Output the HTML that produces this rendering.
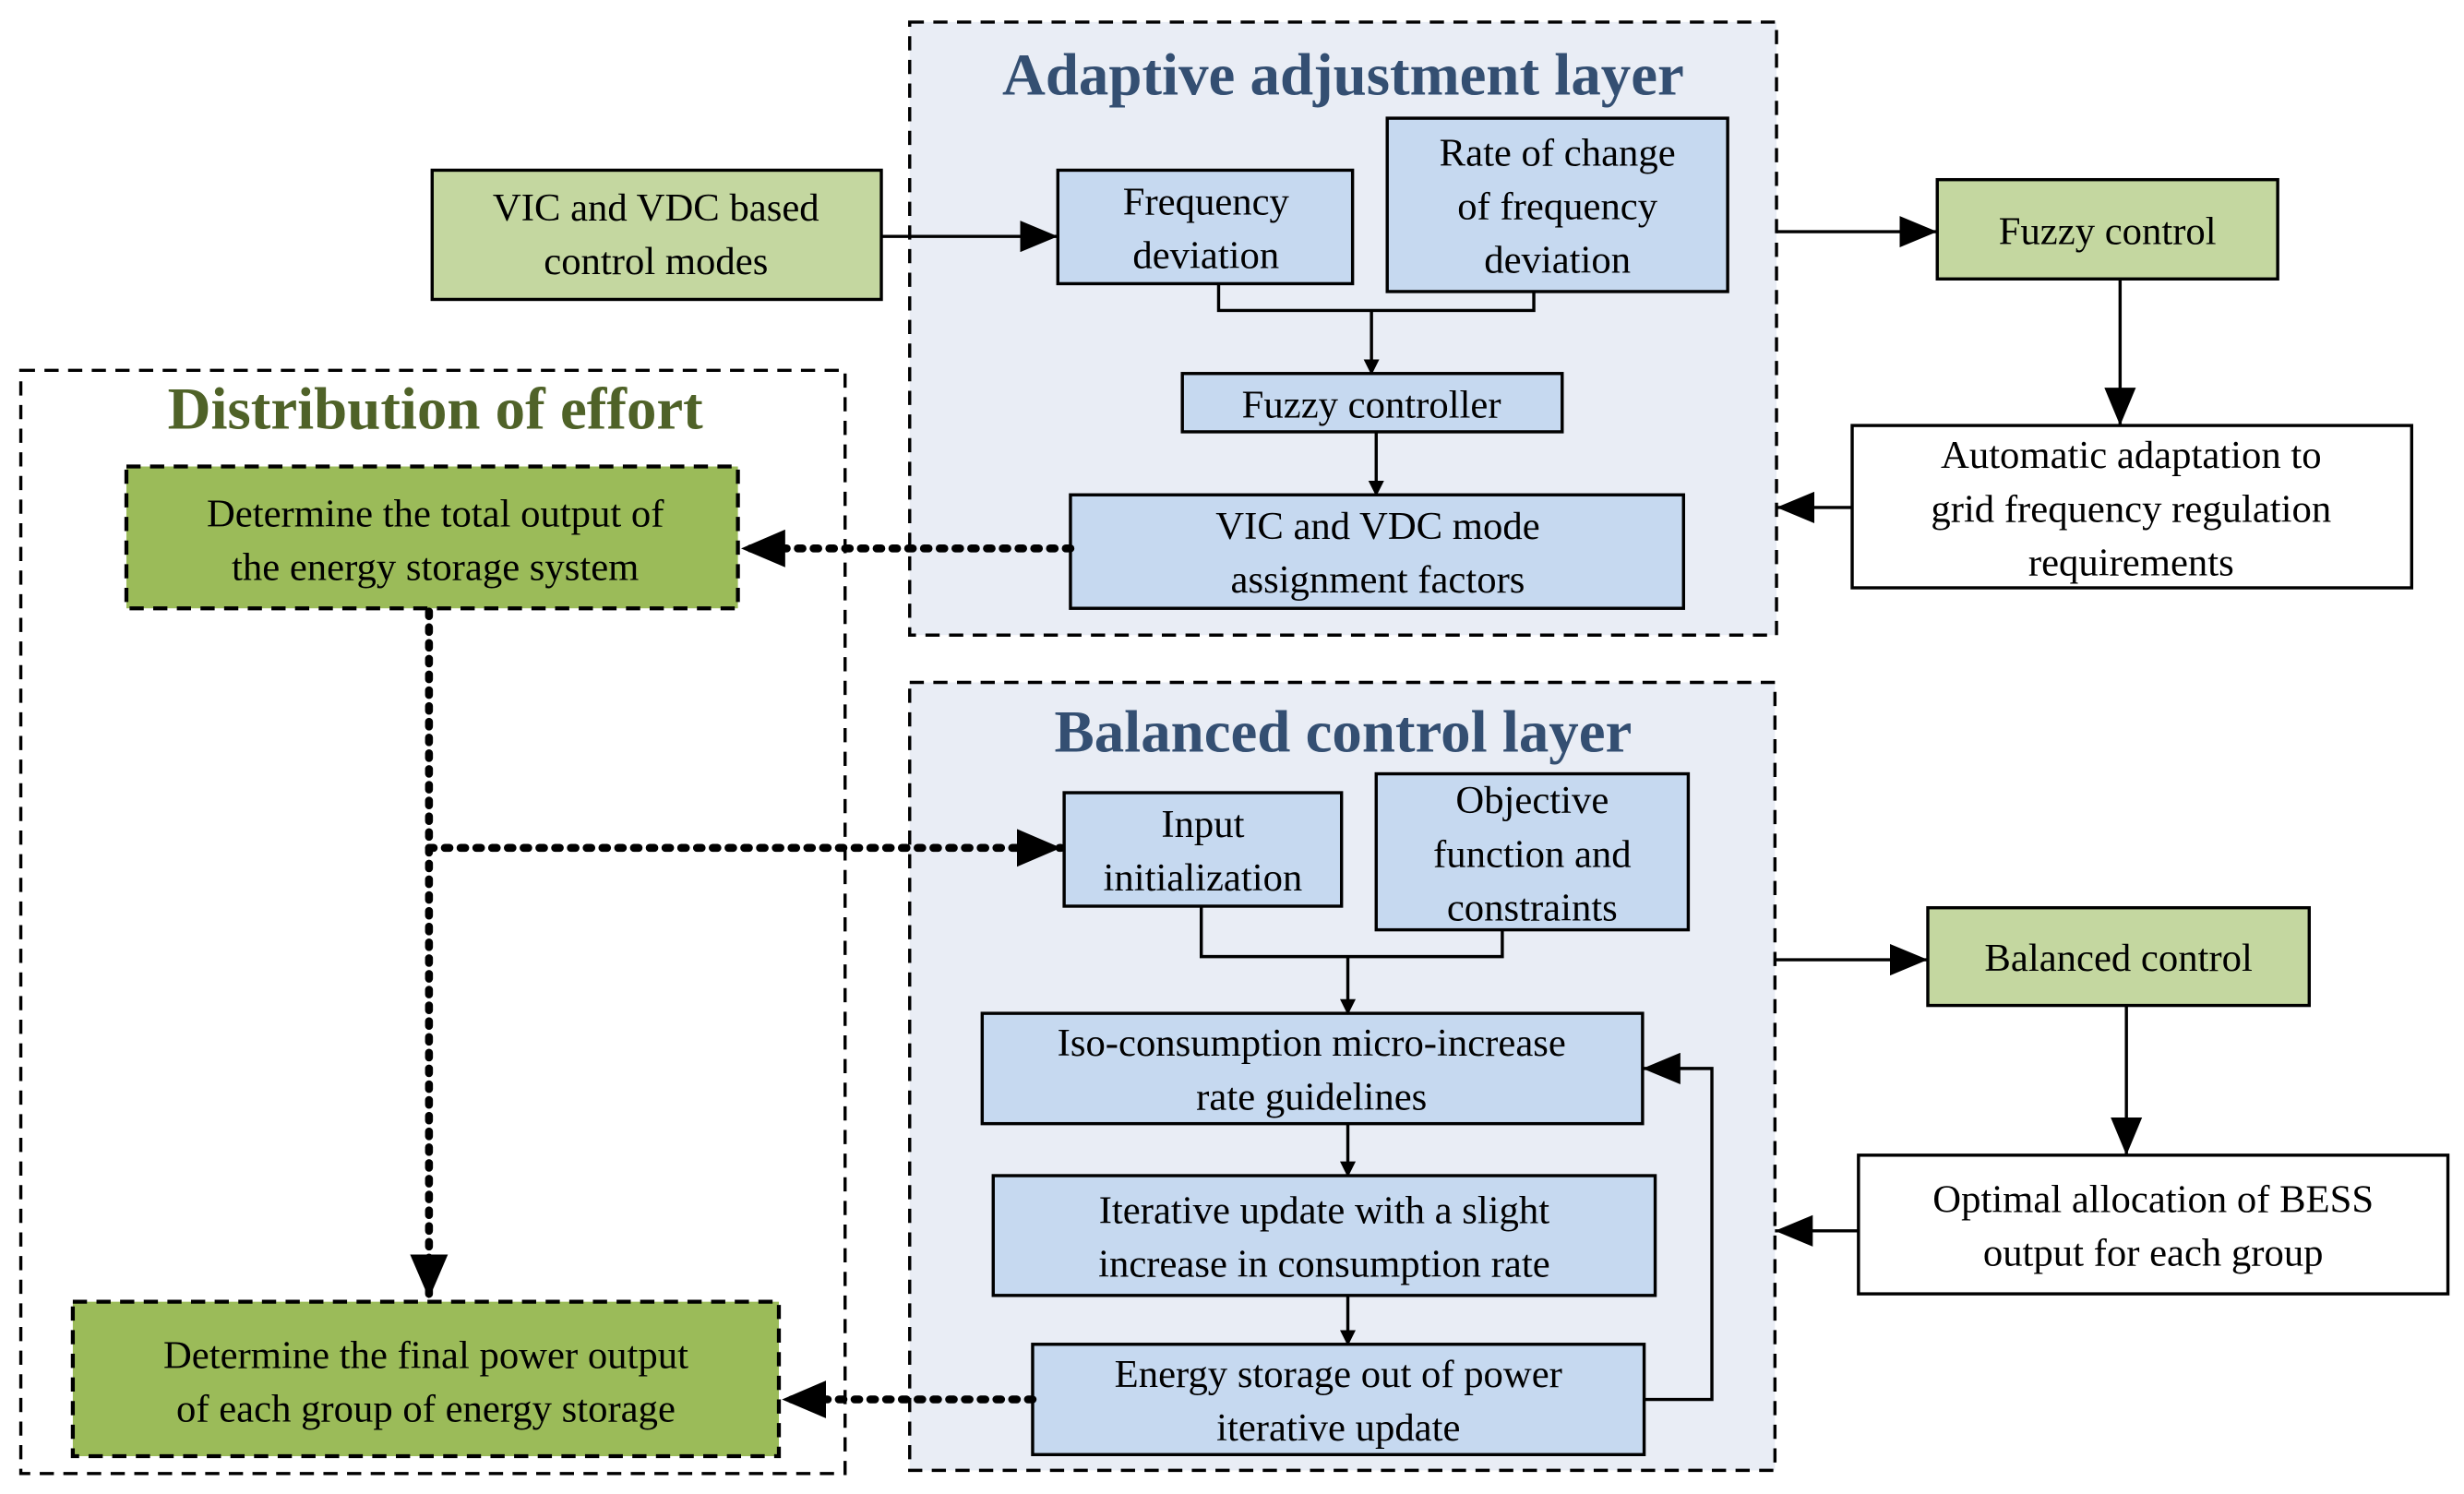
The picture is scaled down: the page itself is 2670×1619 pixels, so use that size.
<!DOCTYPE html>
<html><head><meta charset="utf-8"><style>
html,body{margin:0;padding:0;background:#fff}
svg{display:block;font-family:"Liberation Serif","Times New Roman",serif}
</style></head><body>
<svg width="2670" height="1619" viewBox="0 0 1563 948" xmlns="http://www.w3.org/2000/svg" font-family="Liberation Serif, serif">
<defs>
<marker id="a" markerWidth="10" markerHeight="10" refX="9" refY="5" orient="auto" markerUnits="userSpaceOnUse" viewBox="0 0 10 10"><path d="M0,0 L10,5 L0,10z" fill="#000"/></marker>
<marker id="b" markerWidth="28" markerHeight="24" refX="28" refY="12" orient="auto" markerUnits="userSpaceOnUse"><path d="M0,0 L28,12 L0,24z" fill="#000"/></marker>
<marker id="c" markerWidth="24" markerHeight="20" refX="24" refY="10" orient="auto" markerUnits="userSpaceOnUse"><path d="M0,0 L24,10 L0,20z" fill="#000"/></marker>
</defs>
<style>
text{font-family:"Liberation Serif","Times New Roman",serif;fill:#000}
.dl{stroke:#000;stroke-width:2;stroke-dasharray:9,6}
.bx{stroke:#000;stroke-width:2}
.ln{fill:none;stroke:#000;stroke-width:2}
.dt{fill:none;stroke:#000;stroke-width:5;stroke-dasharray:3,7;stroke-linecap:round}
.t{font-size:25px;text-anchor:middle;font-family:"Liberation Serif","Times New Roman",serif}
</style>
<rect x="577" y="14" width="550" height="389" style="fill:#e9edf5" class="dl"/>
<text x="852" y="60" style="font-size:38px;font-weight:bold;fill:#344f72" text-anchor="middle">Adaptive adjustment layer</text>
<rect x="577" y="433" width="549" height="500" style="fill:#e9edf5" class="dl"/>
<text x="852" y="477" style="font-size:38px;font-weight:bold;fill:#344f72" text-anchor="middle">Balanced control layer</text>
<rect x="13" y="235" width="523" height="700" style="fill:none" class="dl"/>
<text x="276" y="272" style="font-size:38px;font-weight:bold;fill:#4f6228" text-anchor="middle">Distribution of effort</text>

<rect x="274" y="108" width="285" height="82" style="fill:#c4d7a0" class="bx"/>
<text class="t" x="416" y="140">VIC and VDC based</text><text class="t" x="416" y="174">control modes</text>
<rect x="671" y="108" width="187" height="72" style="fill:#c6d9f0" class="bx"/>
<text class="t" x="765" y="136">Frequency</text><text class="t" x="765" y="170">deviation</text>
<rect x="880" y="75" width="216" height="110" style="fill:#c6d9f0" class="bx"/>
<text class="t" x="988" y="105">Rate of change</text><text class="t" x="988" y="139">of frequency</text><text class="t" x="988" y="173">deviation</text>
<rect x="750" y="237" width="241" height="37" style="fill:#c6d9f0" class="bx"/>
<text class="t" x="870" y="265">Fuzzy controller</text>
<rect x="679" y="314" width="389" height="72" style="fill:#c6d9f0" class="bx"/>
<text class="t" x="874" y="342">VIC and VDC mode</text><text class="t" x="874" y="376">assignment factors</text>
<rect x="1229" y="114" width="216" height="63" style="fill:#c4d7a0" class="bx"/>
<text class="t" x="1337" y="155">Fuzzy control</text>
<rect x="1175" y="270" width="355" height="103" style="fill:#fff" class="bx"/>
<text class="t" x="1352" y="297">Automatic adaptation to</text><text class="t" x="1352" y="331">grid frequency regulation</text><text class="t" x="1352" y="365">requirements</text>

<rect x="80" y="296" width="388" height="90" style="fill:#9bbb59;stroke-width:2.5" class="dl"/>
<text class="t" x="276" y="334">Determine the total output of</text><text class="t" x="276" y="368">the energy storage system</text>
<rect x="46" y="826" width="448" height="98" style="fill:#9bbb59;stroke-width:2.5" class="dl"/>
<text class="t" x="270" y="868">Determine the final power output</text><text class="t" x="270" y="902">of each group of energy storage</text>

<rect x="675" y="503" width="176" height="72" style="fill:#c6d9f0" class="bx"/>
<text class="t" x="763" y="531">Input</text><text class="t" x="763" y="565">initialization</text>
<rect x="873" y="491" width="198" height="99" style="fill:#c6d9f0" class="bx"/>
<text class="t" x="972" y="516">Objective</text><text class="t" x="972" y="550">function and</text><text class="t" x="972" y="584">constraints</text>
<rect x="623" y="643" width="419" height="70" style="fill:#c6d9f0" class="bx"/>
<text class="t" x="832" y="670">Iso-consumption micro-increase</text><text class="t" x="832" y="704">rate guidelines</text>
<rect x="630" y="746" width="420" height="76" style="fill:#c6d9f0" class="bx"/>
<text class="t" x="840" y="776">Iterative update with a slight</text><text class="t" x="840" y="810">increase in consumption rate</text>
<rect x="655" y="853" width="388" height="70" style="fill:#c6d9f0" class="bx"/>
<text class="t" x="849" y="880">Energy storage out of power</text><text class="t" x="849" y="914">iterative update</text>
<rect x="1223" y="576" width="242" height="62" style="fill:#c4d7a0" class="bx"/>
<text class="t" x="1344" y="616">Balanced control</text>
<rect x="1179" y="733" width="374" height="88" style="fill:#fff" class="bx"/>
<text class="t" x="1366" y="769">Optimal allocation of BESS</text><text class="t" x="1366" y="803">output for each group</text>

<line x1="559" y1="150" x2="671" y2="150" class="ln" marker-end="url(#c)"/>
<path d="M773,180 V197 H973 V185" class="ln"/>
<line x1="870" y1="197" x2="870" y2="237" class="ln" marker-end="url(#a)"/>
<line x1="873" y1="274" x2="873" y2="314" class="ln" marker-end="url(#a)"/>
<line x1="1127" y1="147" x2="1229" y2="147" class="ln" marker-end="url(#c)"/>
<line x1="1345" y1="177" x2="1345" y2="270" class="ln" marker-end="url(#c)"/>
<line x1="1175" y1="322" x2="1127" y2="322" class="ln" marker-end="url(#c)"/>
<path d="M762,575 V607 H953 V590" class="ln"/>
<line x1="855" y1="607" x2="855" y2="643" class="ln" marker-end="url(#a)"/>
<line x1="855" y1="713" x2="855" y2="746" class="ln" marker-end="url(#a)"/>
<line x1="855" y1="822" x2="855" y2="853" class="ln" marker-end="url(#a)"/>
<path d="M1043,888 H1086 V678 H1042" class="ln" marker-end="url(#c)"/>
<line x1="1126" y1="609" x2="1223" y2="609" class="ln" marker-end="url(#c)"/>
<line x1="1349" y1="638" x2="1349" y2="733" class="ln" marker-end="url(#c)"/>
<line x1="1179" y1="781" x2="1126" y2="781" class="ln" marker-end="url(#c)"/>

<line x1="679" y1="348" x2="470" y2="348" class="dt" marker-end="url(#b)"/>
<line x1="272" y1="388" x2="272" y2="824" class="dt" marker-end="url(#b)"/>
<line x1="272" y1="538" x2="673" y2="538" class="dt" marker-end="url(#b)"/>
<line x1="655" y1="888" x2="496" y2="888" class="dt" marker-end="url(#b)"/>
</svg>
</body></html>
